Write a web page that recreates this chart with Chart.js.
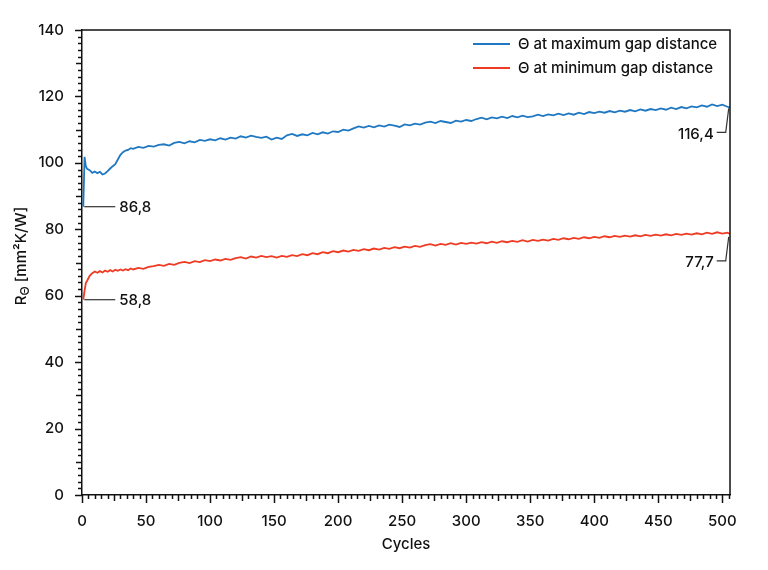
<!DOCTYPE html>
<html>
<head>
<meta charset="utf-8">
<script src="https://cdn.jsdelivr.net/npm/chart.js@4"></script>
<style>
  html, body { margin: 0; padding: 0; background: #fff; }
  #wrap { width: 768px; height: 570px; }
</style>
</head>
<body>
<div id="wrap"><canvas id="grafico" width="768" height="570"></canvas></div>
<script>
// cycles (x) and the two measured series
var cycles = [1, 2, 3, 4, 6, 8, 10, 12, 14, 16, 18, 20, 22, 24, 26, 28, 30, 32, 34, 36, 38, 40,
  44, 48, 52, 56, 60, 64, 68, 72, 76, 80, 84, 88, 92, 96, 100, 104, 108, 112, 116, 120,
  124, 128, 132, 136, 140, 144, 148, 152, 156, 160, 164, 168, 172, 176, 180, 184, 188, 192, 196, 200,
  204, 208, 212, 216, 220, 224, 228, 232, 236, 240, 244, 248, 252, 256, 260, 264, 268, 272, 276, 280,
  284, 288, 292, 296, 300, 304, 308, 312, 316, 320, 324, 328, 332, 336, 340, 344, 348, 352, 356, 360,
  364, 368, 372, 376, 380, 384, 388, 392, 396, 400, 404, 408, 412, 416, 420, 424, 428, 432, 436, 440,
  444, 448, 452, 456, 460, 464, 468, 472, 476, 480, 484, 488, 492, 496, 500, 504, 506];

var maxGap = [86.8, 101.8, 99.0, 98.2, 97.8, 97.0, 97.4, 96.9, 97.3, 96.5, 96.8, 97.5, 98.3, 99.0, 99.6, 101.0, 102.4, 103.2, 103.7, 103.9, 104.4, 104.2,
  104.8, 104.5, 105.1, 104.9, 105.4, 105.6, 105.2, 106.0, 106.3, 105.9, 106.5, 106.2, 106.9, 106.6, 107.1, 106.8, 107.4, 107.0, 107.6, 107.3,
  108.0, 107.6, 108.2, 107.8, 107.5, 107.9, 107.0, 107.6, 107.2, 108.3, 108.7, 108.1, 108.6, 108.3, 109.0, 108.6, 109.2, 108.8, 109.5, 109.3,
  110.0, 109.7, 110.4, 111.0, 110.6, 111.1, 110.7, 111.3, 110.9, 111.5, 111.2, 110.8, 111.6, 111.3, 111.8, 111.5, 112.1, 112.4, 112.0, 112.6,
  112.3, 112.0, 112.7, 112.4, 112.9, 112.6, 113.2, 113.6, 113.1, 113.7, 113.4, 113.9, 113.5, 114.1, 113.7, 114.2, 113.8, 114.0, 114.5, 114.1,
  114.6, 114.3, 114.8, 114.4, 114.9, 114.5, 115.1, 114.7, 115.3, 115.0, 115.4, 115.1, 115.6, 115.2, 115.7, 115.4, 115.9, 115.5, 116.1, 115.7,
  116.2, 115.9, 116.4, 116.0, 116.6, 116.2, 116.8, 116.4, 117.0, 116.7, 117.3, 116.9, 117.6, 117.1, 117.5, 116.9, 116.6];

var minGap = [58.8, 61.5, 63.8, 64.5, 66.0, 66.8, 67.3, 66.9, 67.4, 67.0, 67.6, 67.2, 67.7, 67.3, 67.8, 67.5, 67.9, 67.6, 68.0, 67.7, 68.2, 67.9,
  68.4, 68.1, 68.7, 68.9, 69.3, 69.0, 69.6, 69.3, 69.9, 70.2, 69.8, 70.4, 70.1, 70.7, 70.4, 70.9, 70.6, 71.1, 70.8, 71.3,
  71.6, 71.2, 71.8, 71.5, 72.0, 71.6, 71.9, 71.5, 72.0, 71.7, 72.2, 71.9, 72.5, 72.2, 72.8, 72.5, 73.1, 72.8, 73.4, 73.1,
  73.6, 73.3, 73.8, 73.5, 74.0, 73.7, 74.2, 73.9, 74.4, 74.1, 74.6, 74.3, 74.8, 74.5, 75.0, 74.7, 75.2, 75.5, 75.1, 75.6,
  75.3, 75.8, 75.4, 75.9, 75.6, 76.0, 75.7, 76.1, 75.8, 76.3, 75.9, 76.4, 76.1, 76.5, 76.2, 76.7, 76.3, 76.8, 76.5, 76.9,
  76.6, 77.1, 76.8, 77.3, 77.0, 77.4, 77.1, 77.6, 77.3, 77.7, 77.4, 77.9, 77.6, 78.0, 77.7, 78.1, 77.8, 78.2, 77.9, 78.3,
  78.0, 78.4, 78.1, 78.5, 78.2, 78.6, 78.3, 78.7, 78.4, 78.8, 78.5, 79.0, 78.6, 79.1, 78.7, 79.0, 78.6];

var seriesNames = ['\u0398 at maximum gap distance', '\u0398 at minimum gap distance'];
var seriesColors = ['#1f78c1', '#ee3b24'];

// labelled values: [cycle, value, text]
var notes = [
  [1, 86.8, '86,8'],
  [1, 58.8, '58,8'],
  [505, 116.4, '116,4'],
  [505, 77.7, '77,7']
];

var yTicks = [0, 20, 40, 60, 80, 100, 120, 140];
var xTicks = [0, 50, 100, 150, 200, 250, 300, 350, 400, 450, 500];

var fontName = 'Inter, "Noto Sans", sans-serif';

function pts(vals) {
  return cycles.map(function (c, i) { return { x: c, y: vals[i] }; });
}

var data = {
  datasets: [{
    label: seriesNames[0],
    data: pts(maxGap),
    borderColor: seriesColors[0],
    borderWidth: 1.8,
    pointRadius: 0,
    tension: 0
  }, {
    label: seriesNames[1],
    data: pts(minGap),
    borderColor: seriesColors[1],
    borderWidth: 1.8,
    pointRadius: 0,
    tension: 0
  }]
};

// ticks, frame, legend, axis titles and value labels
var extras = {
  id: 'extras',
  afterDraw: function (chart) {
    var c = chart.ctx, a = chart.chartArea;
    var xs = chart.scales.x, ys = chart.scales.y;
    c.save();
    c.strokeStyle = '#111';
    c.lineWidth = 1.5;
    // frame top + right
    c.beginPath();
    c.moveTo(a.left, a.top); c.lineTo(a.right, a.top); c.lineTo(a.right, a.bottom);
    c.stroke();
    // y ticks
    for (var v = 0; v <= 140; v += 2) {
      var py = Math.round(ys.getPixelForValue(v)) + 0.5;
      var len = v % 20 === 0 ? 7 : (v % 10 === 0 ? 6 : 4);
      c.beginPath(); c.moveTo(a.left - len, py); c.lineTo(a.left, py); c.stroke();
    }
    // x ticks
    for (var u = 0; u <= 505; u += 5) {
      var px = Math.round(xs.getPixelForValue(u)) + 0.5;
      var l2 = u % 50 === 0 ? 8 : (u % 25 === 0 ? 6 : 4);
      c.beginPath(); c.moveTo(px, a.bottom); c.lineTo(px, a.bottom + l2); c.stroke();
    }
    // legend
    c.font = '500 15px ' + fontName;
    c.textBaseline = 'middle';
    c.textAlign = 'left';
    for (var i = 0; i < seriesNames.length; i++) {
      var ly = 44 + i * 24;
      c.strokeStyle = seriesColors[i];
      c.lineWidth = 2.2;
      c.beginPath(); c.moveTo(473, ly); c.lineTo(510, ly); c.stroke();
      c.fillStyle = '#111';
      c.fillText(seriesNames[i], 518, ly);
    }
    // value labels
    c.font = '500 15px ' + fontName;
    c.strokeStyle = '#333';
    c.lineWidth = 1.2;
    notes.forEach(function (n) {
      var ax = xs.getPixelForValue(n[0]), ay = ys.getPixelForValue(n[1]);
      c.beginPath();
      if (n[0] < 100) {
        c.moveTo(ax + 1, ay); c.lineTo(ax + 32, ay); c.stroke();
        c.textAlign = 'left';
        c.fillText(n[2], ax + 36, ay + 1);
      } else {
        c.moveTo(ax, ay); c.lineTo(ax - 3, ay + 24); c.lineTo(ax - 12, ay + 24); c.stroke();
        c.textAlign = 'right';
        c.fillText(n[2], ax - 15, ay + 26);
      }
    });
    // axis titles
    c.fillStyle = '#111';
    c.font = '500 15px ' + fontName;
    c.textAlign = 'center';
    c.fillText('Cycles', (a.left + a.right) / 2, 544);
    c.translate(21, 256);
    c.rotate(-Math.PI / 2);
    var t1 = 'R', t2 = '\u0398', t3 = ' [mm\u00b2K/W]';
    var w1 = c.measureText(t1).width, w3 = c.measureText(t3).width;
    c.font = '500 12px ' + fontName;
    var w2 = c.measureText(t2).width;
    var x0 = -(w1 + w2 + w3) / 2;
    c.textAlign = 'left';
    c.font = '500 15px ' + fontName;
    c.fillText(t1, x0, 0);
    c.font = '500 12px ' + fontName;
    c.fillText(t2, x0 + w1, 4);
    c.font = '500 15px ' + fontName;
    c.fillText(t3, x0 + w1 + w2, 0);
    c.restore();
  }
};

var options = {
  responsive: false,
  animation: false,
  devicePixelRatio: 1,
  layout: { padding: { left: 0, right: 38, top: 30, bottom: 0 } },
  plugins: { legend: { display: false }, tooltip: { enabled: false } },
  scales: {
    x: {
      type: 'linear',
      min: 0,
      max: 506,
      grid: { display: false },
      border: { display: true, color: '#111', width: 1.5 },
      afterFit: function (s) { s.height = 75; },
      afterBuildTicks: function (s) { s.ticks = xTicks.map(function (v) { return { value: v }; }); },
      ticks: { color: '#111', font: { family: fontName, size: 15, weight: '500' }, padding: 9, maxRotation: 0 }
    },
    y: {
      min: 0,
      max: 140,
      grid: { display: false },
      border: { display: true, color: '#111', width: 1.5 },
      afterFit: function (s) { s.width = 82; },
      afterBuildTicks: function (s) { s.ticks = yTicks.map(function (v) { return { value: v }; }); },
      ticks: { color: '#111', font: { family: fontName, size: 15, weight: '500' }, padding: 10 }
    }
  }
};

var ctx = document.querySelector('#grafico');
var lineChart = new Chart(ctx, {
  type: 'line',
  data: data,
  options: options,
  plugins: [extras]
});
</script>
</body>
</html>
